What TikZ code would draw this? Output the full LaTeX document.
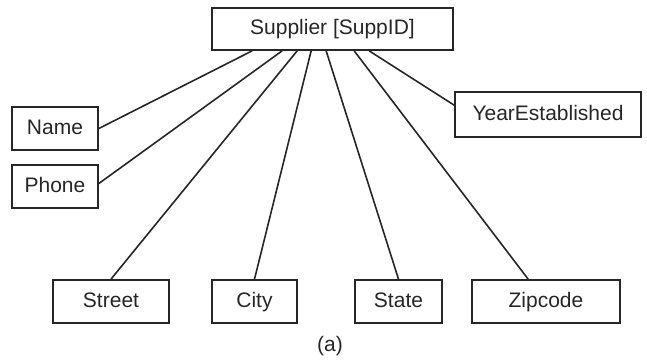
\documentclass[tikz,border=0pt]{standalone}
\usepackage{fontspec}
\setmainfont{Liberation Sans}
\usetikzlibrary{calc}
\begin{document}
\begin{tikzpicture}[x=1pt,y=-1pt,
  ent/.style={draw=black!85,line width=1.7pt,inner sep=0pt,font=\fontsize{21}{25}\selectfont,text=black!85,text height=15pt,text depth=4pt},
  conn/.style={draw=black!85,line width=1.6pt}]
\useasboundingbox (0,0) rectangle (647,361);
\node[ent,minimum width=241pt,minimum height=42pt] (sup) at (332.5,29) {Supplier [SuppID]};
\node[ent,minimum width=86pt,minimum height=43pt] (name) at (55,128.5) {Name};
\node[ent,minimum width=86pt,minimum height=43pt] (phone) at (55,186.5) {Phone};
\node[ent,minimum width=186pt,minimum height=45pt] (year) at (548,114.5) {YearEstablished};
\node[ent,minimum width=116pt,minimum height=43pt] (street) at (111,301.5) {Street};
\node[ent,minimum width=85pt,minimum height=43pt] (city) at (254.5,301.5) {City};
\node[ent,minimum width=87pt,minimum height=43pt] (state) at (398.5,301.5) {State};
\node[ent,minimum width=148pt,minimum height=43pt] (zip) at (546,301.5) {Zipcode};
\node[font=\fontsize{21}{25}\selectfont,text=black!85] (cap) at (330,346) {(a)};
\draw[conn] ($(sup.south west)+(41,0)$) -- (name.east);
\draw[conn] ($(sup.south west)+(71,0)$) -- ($(phone.east)+(0,-3)$);
\draw[conn] ($(sup.south west)+(86,0)$) -- (street.north);
\draw[conn] ($(sup.south west)+(100,0)$) -- (city.north);
\draw[conn] ($(sup.south west)+(115,0)$) -- (state.north);
\draw[conn] ($(sup.south west)+(143,0)$) -- ($(zip.north west)+(57,0)$);
\draw[conn] ($(sup.south west)+(158,0)$) -- ($(year.north west)+(0,14)$);
\end{tikzpicture}
\end{document}
